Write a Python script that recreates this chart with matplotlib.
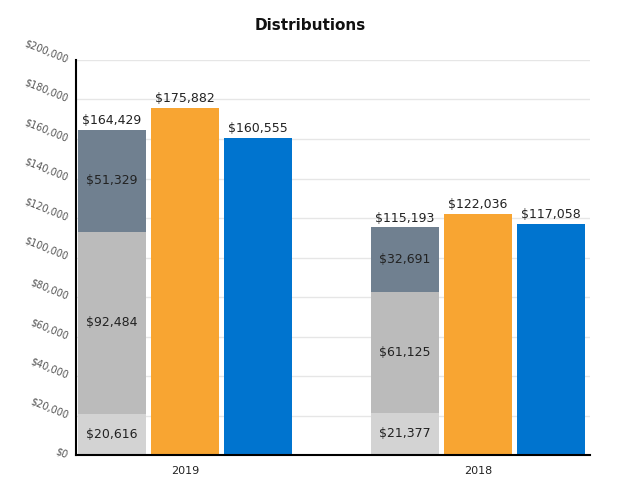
import matplotlib
matplotlib.use("Agg")
import matplotlib.pyplot as plt
from matplotlib.ticker import FuncFormatter

years = ["2019", "2018"]
seg_low = [20616, 21377]
seg_mid = [92484, 61125]
seg_top = [51329, 32691]
orange_vals = [175882, 122036]
blue_vals = [160555, 117058]

totals = [a + b + c for a, b, c in zip(seg_low, seg_mid, seg_top)]

fig = plt.figure(figsize=(6.21, 5.0), dpi=100)
ax = fig.add_axes([76 / 621, 1 - 455 / 500, (590 - 76) / 621, (455 - 60) / 500])

x = [0, 1]
w = 0.232
off = 0.249


def money(v, pos=None):
    return "${:,.0f}".format(v)


xs = [i - off for i in x]
ax.bar(xs, seg_low, w, color="#d3d3d3", zorder=2)
ax.bar(xs, seg_mid, w, bottom=seg_low, color="#bbbbbb", zorder=2)
bot2 = [a + b for a, b in zip(seg_low, seg_mid)]
ax.bar(xs, seg_top, w, bottom=bot2, color="#708090", zorder=2)
ax.bar(x, orange_vals, w, color="#f8a532", zorder=2)
ax.bar([i + off for i in x], blue_vals, w, color="#0074cf", zorder=2)

txt = dict(ha="center", fontsize=9, color="#222222", zorder=3)
for i in range(2):
    ax.text(xs[i], seg_low[i] / 2, money(seg_low[i]), va="center", **txt)
    ax.text(xs[i], seg_low[i] + seg_mid[i] / 2, money(seg_mid[i]), va="center", **txt)
    ax.text(xs[i], bot2[i] + seg_top[i] / 2, money(seg_top[i]), va="center", **txt)
    ax.text(xs[i], totals[i] + 1500, money(totals[i]), va="bottom", **txt)
    ax.text(x[i], orange_vals[i] + 1500, money(orange_vals[i]), va="bottom", **txt)
    ax.text(x[i] + off, blue_vals[i] + 1500, money(blue_vals[i]), va="bottom", **txt)

ax.set_ylim(0, 200000)
ax.set_xlim(-0.372, 1.382)
ax.set_yticks(range(0, 200001, 20000))
ax.yaxis.set_major_formatter(FuncFormatter(money))
ax.set_xticks(x)
ax.set_xticklabels(years)
ax.tick_params(axis="x", length=0, labelsize=8, colors="#222222", pad=8)
ax.tick_params(axis="y", length=0, labelsize=7, labelcolor="#555555", pad=6)
for lab in ax.get_yticklabels():
    lab.set_rotation(-22)
    lab.set_rotation_mode("anchor")
    lab.set_ha("right")
    lab.set_va("center")

ax.grid(axis="y", color="#e6e6e6", linewidth=1, zorder=0)
ax.set_axisbelow(True)
for s in ["top", "right"]:
    ax.spines[s].set_visible(False)
ax.spines["left"].set_linewidth(1.5)
ax.spines["bottom"].set_linewidth(1.5)

fig.text(0.5, 1 - 25 / 500, "Distributions", ha="center", va="center",
         fontsize=11, fontweight="bold", color="#111111")

fig.savefig("out.png", dpi=100)
